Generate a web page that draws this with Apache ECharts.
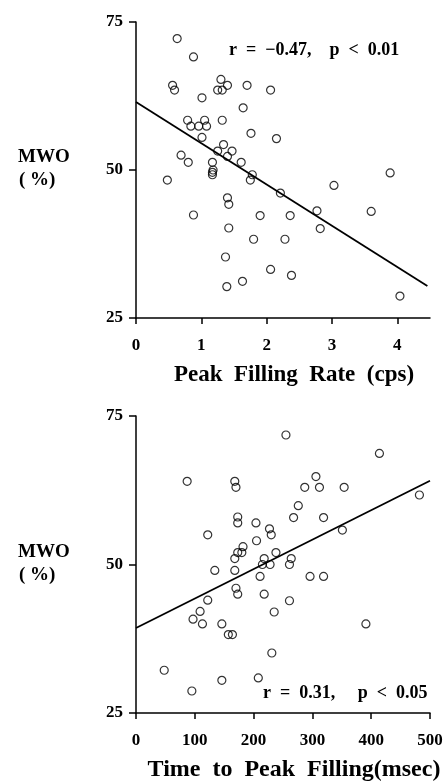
<!DOCTYPE html>
<html>
<head>
<meta charset="utf-8">
<script src="https://cdn.jsdelivr.net/npm/echarts@6/dist/echarts.min.js"></script>
<style>
  html, body { margin: 0; padding: 0; background: #fff; }
  #chart { width: 447px; height: 783px; }
</style>
</head>
<body>
<div id="chart"></div>
<script>
// top panel: peak filling rate (cps) vs MWO (%)
const pfrX = [0.63, 0.88, 0.56, 0.59, 1.30, 1.25, 1.32, 1.40, 1.70, 2.06, 1.01, 1.64, 0.79, 0.84, 0.96,
  1.05, 1.08, 1.32, 1.01, 1.76, 2.15, 1.34, 1.47, 1.25, 1.40, 1.61, 0.69, 0.80, 1.17, 1.18, 1.17, 1.17,
  1.78, 1.75, 0.48, 1.40, 1.42, 0.88, 1.90, 1.42, 1.80, 1.37, 2.06, 1.63, 1.39, 3.89, 3.03, 2.21, 2.36,
  2.77, 2.82, 3.60, 2.28, 2.38, 4.04];
const pfrY = [72.2, 69.1, 64.3, 63.5, 65.3, 63.5, 63.5, 64.3, 64.3, 63.5, 62.2, 60.5, 58.4, 57.4, 57.4,
  58.4, 57.4, 58.4, 55.5, 56.2, 55.3, 54.3, 53.2, 53.2, 52.3, 51.3, 52.5, 51.3, 51.3, 50.0, 49.2, 49.6,
  49.2, 48.3, 48.3, 45.3, 44.2, 42.4, 42.3, 40.2, 38.3, 35.3, 33.2, 31.2, 30.3, 49.5, 47.4, 46.1, 42.3,
  43.1, 40.1, 43.0, 38.3, 32.2, 28.7];
const pfrFitX = [0, 4.46];
const pfrFitY = [61.5, 30.4];
const pfrTicks = [0, 1, 2, 3, 4];

// bottom panel: time to peak filling (msec) vs MWO (%)
const tpfX = [87, 168, 170, 173, 173, 204, 227, 230, 122, 205, 182, 173, 180, 168, 218, 238, 215, 228,
  134, 168, 211, 255, 414, 306, 287, 312, 354, 482, 276, 268, 319, 351, 264, 261, 296, 319, 170, 173,
  218, 122, 109, 97, 113, 146, 235, 157, 164, 231, 48, 146, 208, 95, 261, 391];
const tpfY = [64, 64, 63, 58, 57, 57, 56, 55, 55, 54, 53, 52, 52, 51, 51, 52, 50, 50,
  49, 49, 48, 71.8, 68.7, 64.8, 63, 63, 63, 61.7, 59.9, 57.9, 57.9, 55.8, 51, 50, 48, 48, 46, 45,
  45, 44, 42.1, 40.8, 40, 40, 42, 38.2, 38.2, 35.1, 32.2, 30.5, 30.9, 28.7, 43.9, 40];
const tpfFitX = [0, 500];
const tpfFitY = [39.3, 64.1];
const tpfTicks = [0, 100, 200, 300, 400, 500];

const yTicks = [25, 50, 75];

const serif = '"Liberation Serif", "DejaVu Serif", serif';
const zip = (xs, ys) => xs.map((x, i) => [x, ys[i]]);

function xAxisOpt(grid, max, interval, ticks) {
  return {
    type: 'value', gridIndex: grid, min: 0, max: max, interval: interval,
    splitLine: { show: false },
    axisLine: { show: true, lineStyle: { color: '#000', width: 1.5 } },
    axisTick: { show: true, length: 6, customValues: ticks, lineStyle: { color: '#000', width: 1.5 } },
    axisLabel: { customValues: ticks, margin: 19, color: '#000', fontFamily: serif, fontWeight: 'bold', fontSize: 17 }
  };
}
function yAxisOpt(grid) {
  return {
    type: 'value', gridIndex: grid, min: 25, max: 75, interval: 25,
    splitLine: { show: false },
    axisLine: { show: true, lineStyle: { color: '#000', width: 1.5 } },
    axisTick: { show: true, length: 7, customValues: yTicks, lineStyle: { color: '#000', width: 1.5 } },
    axisLabel: { customValues: yTicks, margin: 13, color: '#000', fontFamily: serif, fontWeight: 'bold', fontSize: 17 }
  };
}
const dots = (i, d) => ({
  type: 'scatter', xAxisIndex: i, yAxisIndex: i, data: d, symbol: 'circle', symbolSize: 8,
  itemStyle: { color: 'rgba(0,0,0,0)', borderColor: '#000', borderWidth: 1.2 }, silent: true
});
const fit = (i, d) => ({
  type: 'line', xAxisIndex: i, yAxisIndex: i, data: d, showSymbol: false, silent: true,
  lineStyle: { color: '#000', width: 1.8 }
});
const txt = (text, x, y, size, align) => ({
  type: 'text', x: x, y: y,
  style: { text: text, fill: '#000', font: 'bold ' + size + 'px ' + serif, textAlign: align || 'left', textVerticalAlign: 'middle' }
});

const chart = echarts.init(document.getElementById('chart'));
chart.setOption({
  animation: false,
  backgroundColor: '#fff',
  grid: [
    { left: 136, top: 22, width: 294, height: 296 },
    { left: 136, top: 416, width: 294, height: 297 }
  ],
  xAxis: [xAxisOpt(0, 4.5, 1, pfrTicks), xAxisOpt(1, 500, 100, tpfTicks)],
  yAxis: [yAxisOpt(0), yAxisOpt(1)],
  series: [
    dots(0, zip(pfrX, pfrY)),
    fit(0, zip(pfrFitX, pfrFitY)),
    dots(1, zip(tpfX, tpfY)),
    fit(1, zip(tpfFitX, tpfFitY))
  ],
  graphic: [
    txt('r  =  \u22120.47,    p  <  0.01', 229, 50, 18),
    txt('r  =  0.31,     p  <  0.05', 263, 693, 18),
    txt('MWO', 18, 157, 19),
    txt('( %)', 19, 180, 19),
    txt('MWO', 18, 552, 19),
    txt('( %)', 19, 575, 19),
    txt('Peak  Filling  Rate  (cps)', 294, 375, 23, 'center'),
    txt('Time  to  Peak  Filling(msec)', 294, 770, 24, 'center')
  ]
});
</script>
</body>
</html>
